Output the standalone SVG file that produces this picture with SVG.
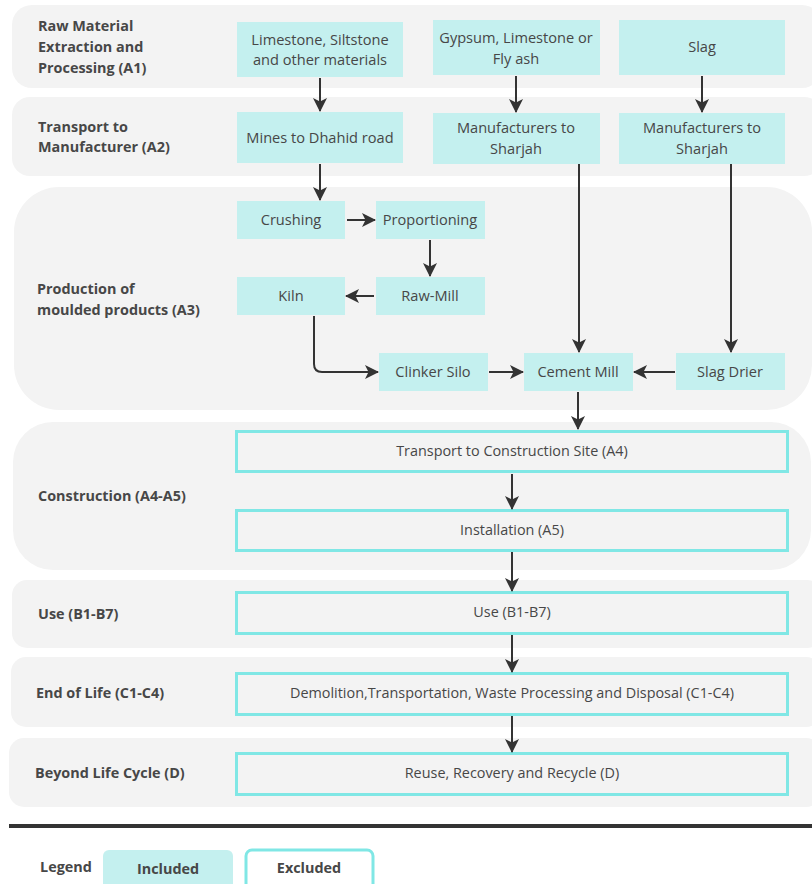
<svg xmlns="http://www.w3.org/2000/svg" width="812" height="884" viewBox="0 0 812 884">
<defs>
<style>
.band{fill:#f3f3f3}
.inc{fill:#c4f0ef}
.exc{fill:none;stroke:#80e7e5;stroke-width:3}
.lbl{font-family:"Open Sans","Liberation Sans",sans-serif;font-weight:bold;font-size:14.4px;fill:#474747}
.t{font-family:"Open Sans","Liberation Sans",sans-serif;font-size:14.6px;fill:#474747;text-anchor:middle}
.t2{font-family:"Open Sans","Liberation Sans",sans-serif;font-size:14.4px;fill:#474747;text-anchor:middle}
.c{fill:none;stroke:#333;stroke-width:2;marker-end:url(#ah)}
</style>
<marker id="ah" viewBox="0 0 14 14" markerWidth="14" markerHeight="14" refX="13" refY="7" orient="auto" markerUnits="userSpaceOnUse">
<path d="M0,0 L14,7 L0,14 L3.5,7 z" fill="#333"/>
</marker>
</defs>
<rect width="812" height="884" fill="#fff"/>
<g id="bands">
<rect class="band" x="12" y="5" width="810" height="83" rx="20"/>
<rect class="band" x="12" y="97" width="810" height="79" rx="18"/>
<rect class="band" x="14" y="187" width="798" height="223" rx="45"/>
<rect class="band" x="13" y="422" width="798" height="148" rx="40"/>
<rect class="band" x="12" y="580" width="810" height="68" rx="15"/>
<rect class="band" x="11" y="657" width="810" height="70" rx="15"/>
<rect class="band" x="9" y="738" width="812" height="69" rx="15"/>
<text class="lbl" x="38" y="31">Raw Material</text>
<text class="lbl" x="38" y="52">Extraction and</text>
<text class="lbl" x="38" y="73">Processing (A1)</text>
<text class="lbl" x="38" y="132">Transport to</text>
<text class="lbl" x="38" y="152">Manufacturer (A2)</text>
<text class="lbl" x="37" y="294">Production of</text>
<text class="lbl" x="37" y="315">moulded products (A3)</text>
<text class="lbl" x="38" y="501">Construction (A4-A5)</text>
<text class="lbl" x="38" y="619">Use (B1-B7)</text>
<text class="lbl" x="36" y="698">End of Life (C1-C4)</text>
<text class="lbl" x="35" y="778">Beyond Life Cycle (D)</text>
</g>
<g id="n-limestone"><rect class="inc" x="237" y="22" width="166" height="55"/><text class="t" x="320" y="45">Limestone, Siltstone</text><text class="t" x="320" y="65">and other materials</text></g>
<g id="n-gypsum"><rect class="inc" x="433" y="20" width="167" height="55"/><text class="t" x="516" y="43">Gypsum, Limestone or</text><text class="t" x="516" y="64">Fly ash</text></g>
<g id="n-slag"><rect class="inc" x="619" y="20" width="166" height="55"/><text class="t" x="702" y="52">Slag</text></g>
<g id="n-mines"><rect class="inc" x="237" y="112" width="166" height="51"/><text class="t" x="320" y="143">Mines to Dhahid road</text></g>
<g id="n-manuf1"><rect class="inc" x="433" y="113" width="167" height="51"/><text class="t" x="516" y="133">Manufacturers to</text><text class="t" x="516" y="154">Sharjah</text></g>
<g id="n-manuf2"><rect class="inc" x="619" y="113" width="166" height="51"/><text class="t" x="702" y="133">Manufacturers to</text><text class="t" x="702" y="154">Sharjah</text></g>
<g id="n-crushing"><rect class="inc" x="237" y="201" width="108" height="38"/><text class="t" x="291" y="225">Crushing</text></g>
<g id="n-proportioning"><rect class="inc" x="376" y="201" width="109" height="38"/><text class="t" x="430" y="225">Proportioning</text></g>
<g id="n-kiln"><rect class="inc" x="237" y="277" width="108" height="38"/><text class="t" x="291" y="301">Kiln</text></g>
<g id="n-rawmill"><rect class="inc" x="376" y="277" width="109" height="38"/><text class="t" x="430" y="301">Raw-Mill</text></g>
<g id="n-clinker"><rect class="inc" x="379" y="353" width="109" height="38"/><text class="t" x="433" y="377">Clinker Silo</text></g>
<g id="n-cement"><rect class="inc" x="524" y="353" width="109" height="38"/><text class="t" x="578" y="377">Cement Mill</text></g>
<g id="n-slagdrier"><rect class="inc" x="676" y="353" width="109" height="37"/><text class="t" x="730" y="377">Slag Drier</text></g>
<g id="n-a4"><rect class="exc" x="236.5" y="431.5" width="551" height="40"/><text class="t2" x="512" y="456">Transport to Construction Site (A4)</text></g>
<g id="n-a5"><rect class="exc" x="236.5" y="510.5" width="551" height="40"/><text class="t2" x="512" y="535">Installation (A5)</text></g>
<g id="n-use"><rect class="exc" x="236.5" y="592.5" width="551" height="41"/><text class="t2" x="512" y="617">Use (B1-B7)</text></g>
<g id="n-eol"><rect class="exc" x="236.5" y="673.5" width="551" height="41"/><text class="t2" x="512" y="698">Demolition,Transportation, Waste Processing and Disposal (C1-C4)</text></g>
<g id="n-beyond"><rect class="exc" x="236.5" y="753.5" width="551" height="41"/><text class="t2" x="512" y="778">Reuse, Recovery and Recycle (D)</text></g>
<g id="connectors">
<path class="c" d="M320,78 V111"/>
<path class="c" d="M516,76 V112"/>
<path class="c" d="M702,76 V112"/>
<path class="c" d="M320,164 V200"/>
<path class="c" d="M347,220 H375"/>
<path class="c" d="M430,240 V276"/>
<path class="c" d="M374,296 H346"/>
<path class="c" d="M314,316 V364 Q314,372 322,372 H378"/>
<path class="c" d="M489,372 H523"/>
<path class="c" d="M579,164 V352"/>
<path class="c" d="M731,164 V352"/>
<path class="c" d="M675,372 H634"/>
<path class="c" d="M578,392 V429"/>
<path class="c" d="M512,474 V509"/>
<path class="c" d="M512,552 V591"/>
<path class="c" d="M512,635 V672"/>
<path class="c" d="M512,716 V752"/>
</g>
<g id="legend">
<rect x="9" y="824" width="803" height="4" fill="#333"/>
<text class="lbl" x="40" y="872">Legend</text>
<rect x="103" y="850" width="130" height="40" rx="6" fill="#c4f0ef"/>
<text class="lbl" x="168" y="874" text-anchor="middle" font-size="15">Included</text>
<rect x="246" y="850" width="127" height="40" rx="6" fill="#fff" stroke="#80e7e5" stroke-width="3"/>
<text class="lbl" x="309" y="873" text-anchor="middle" font-size="15">Excluded</text>
</g>
</svg>
